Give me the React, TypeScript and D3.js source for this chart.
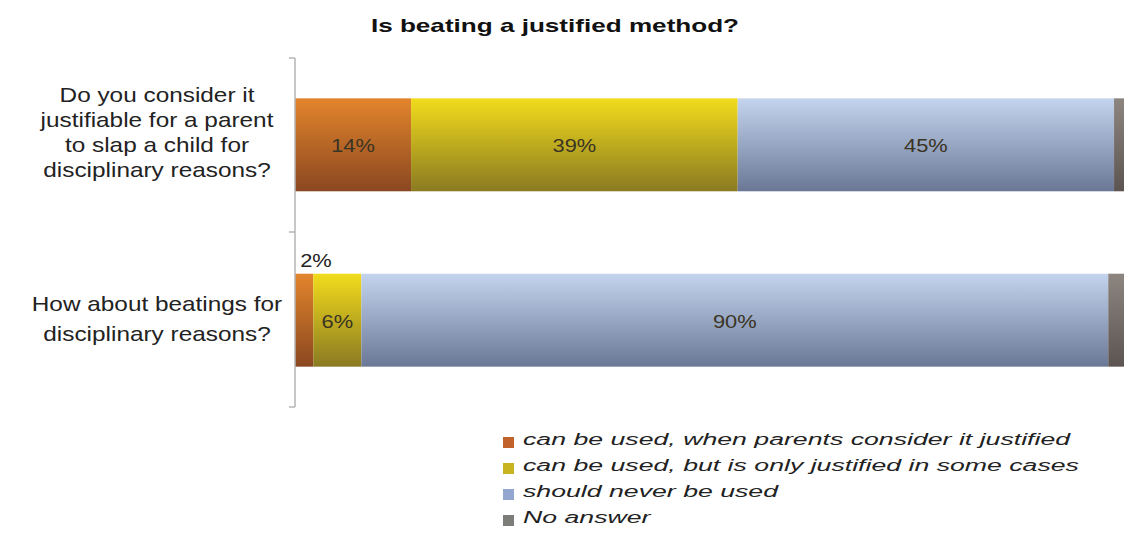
import React from "react";
import * as d3 from "d3";

const title = "Is beating a justified method?";
const questions = [
  ["Do you consider it", "justifiable for a parent", "to slap a child for", "disciplinary reasons?"],
  ["How about beatings for", "disciplinary reasons?"],
];
const seriesNames = [
  "can be used, when parents consider it justified",
  "can be used, but is only justified in some cases",
  "should never be used",
  "No answer",
];
const q1Values = [14.0, 39.4, 45.4, 1.2];
const q2Values = [2.2, 5.8, 90.1, 1.9];
const valueRows = [q1Values, q2Values];
const colorsTop = ["#e3852c", "#f2dc1c", "#c4d4ee", "#8c8580"];
const colorsBottom = ["#8a4720", "#8a7a22", "#6a7896", "#5c5450"];
const legendColors = ["#c0622a", "#c8b41e", "#93a6cf", "#7c7c78"];

const W = 1124, H = 547;
const margin = { left: 295, right: 0 };
const font = "'Liberation Sans', Arial, sans-serif";
const labelLayout = [
  { lh: 25, offset: -5 },
  { lh: 30, offset: 6 },
];

function SText(props: any) {
  const { x, y, sx, anchor, children, ...rest } = props;
  return (
    <text transform={`translate(${x},${y}) scale(${sx},1)`} textAnchor={anchor} fontFamily={font} {...rest}>
      {children}
    </text>
  );
}

export default function App() {
  const x = d3.scaleLinear().domain([0, 100]).range([margin.left, W - margin.right]);
  const y = d3.scaleBand().domain(questions.map((_, i) => String(i))).range([58, 407]).paddingInner(0.47).paddingOuter(0.23);
  const stackData = valueRows.map((vals, i) => {
    const o: any = { key: String(i) };
    vals.forEach((v, j) => (o["s" + j] = v));
    return o;
  });
  const stack = d3.stack().keys(seriesNames.map((_, j) => "s" + j))(stackData);
  return (
    <svg width={W} height={H} style={{ position: "absolute", left: 0, top: 0, background: "#fff" }}>
      <defs>
        {colorsTop.map((c, j) => (
          <linearGradient key={j} id={"g" + j} x1="0" y1="0" x2="0" y2="1">
            <stop offset="0" stopColor={c} />
            <stop offset="1" stopColor={colorsBottom[j]} />
          </linearGradient>
        ))}
      </defs>
      <SText x={555} y={32} sx={1.45} anchor="middle" fontWeight="bold" fontSize={18} fill="#111">{title}</SText>
      {stack.map((layer, j) =>
        layer.map((d, i) => {
          const x0 = x(d[0]), x1 = x(d[1]);
          const yy = y(String(i))!;
          return <rect key={j + "-" + i} x={x0} y={yy} width={x1 - x0} height={y.bandwidth()} fill={`url(#g${j})`} />;
        })
      )}
      {stack.map((layer, j) =>
        j === 3 ? null : layer.map((d, i) => {
          const v = valueRows[i][j];
          const x0 = x(d[0]), x1 = x(d[1]);
          const yy = y(String(i))!;
          const small = x1 - x0 < 30;
          return (
            <SText key={"l" + j + "-" + i} x={small ? x0 + 21 : (x0 + x1) / 2} y={small ? yy - 7 : yy + y.bandwidth() / 2 + 7.5}
              sx={1.15} anchor="middle" fontSize={19} fill={small ? "#222" : "#3a3424"}>
              {Math.round(v) + "%"}
            </SText>
          );
        })
      )}
      <line x1={margin.left} x2={margin.left} y1={58} y2={407} stroke="#b4b4b4" strokeWidth={1.5} />
      {[58, 232, 407].map((t) => (
        <line key={t} x1={margin.left - 6} x2={margin.left} y1={t} y2={t} stroke="#b4b4b4" strokeWidth={1.5} />
      ))}
      {questions.map((lines, i) => {
        const cy = y(String(i))! + y.bandwidth() / 2;
        const { lh, offset } = labelLayout[i];
        const start = cy - ((lines.length - 1) * lh) / 2 + offset;
        return lines.map((l, k) => (
          <SText key={i + "-" + k} x={157} y={start + k * lh} sx={1.16} anchor="middle" fontSize={21} fill="#222">{l}</SText>
        ));
      })}
      {seriesNames.map((s, j) => (
        <g key={s} transform={`translate(503, ${445 + j * 26})`}>
          <rect x={0} y={-8} width={11} height={11} fill={legendColors[j]} />
          <SText x={20} y={0} sx={1.57} anchor="start" fontStyle="italic" fontSize={17} fill="#222">{s}</SText>
        </g>
      ))}
    </svg>
  );
}
